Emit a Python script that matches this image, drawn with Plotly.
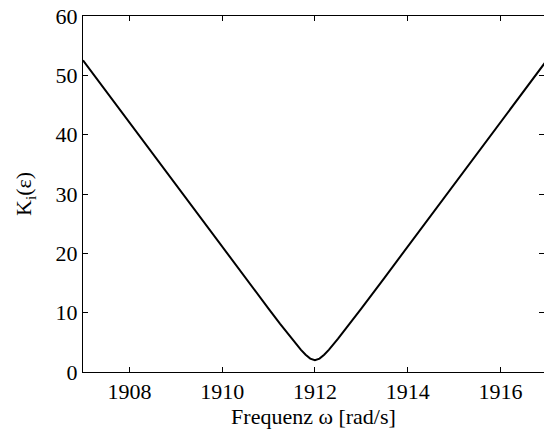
import plotly.graph_objects as go

# Frequency (rad/s) and K_i(epsilon)
freq = [1907.0, 1907.5, 1908.0, 1908.5, 1909.0, 1909.5, 1910.0, 1910.5, 1911.0,
        1911.25, 1911.5, 1911.7, 1911.8, 1911.9, 1912.0, 1912.1, 1912.2, 1912.3,
        1912.5, 1912.75, 1913.0, 1913.5, 1914.0, 1914.5, 1915.0, 1915.5, 1916.0,
        1916.5, 1917.0]
k_i = [52.54, 47.29, 42.05, 36.80, 31.56, 26.33, 21.09, 15.88, 10.69,
       8.13, 5.62, 3.73, 2.90, 2.26, 2.0, 2.26, 2.90, 3.73,
       5.62, 8.13, 10.69, 15.88, 21.09, 26.33, 31.56, 36.80, 42.05,
       47.29, 52.54]

xticks = [1908, 1910, 1912, 1914, 1916]
yticks = [0, 10, 20, 30, 40, 50, 60]

font = "Liberation Serif, Times New Roman, serif"

fig = go.Figure(go.Scatter(x=freq, y=k_i, mode="lines",
                           line=dict(color="black", width=2),
                           showlegend=False))

axis_common = dict(showline=True, linecolor="black", linewidth=1, mirror="ticks",
                   ticks="inside", ticklen=5, tickwidth=1, tickcolor="black",
                   showgrid=False, zeroline=False, automargin=False,
                   tickfont=dict(family=font, size=22, color="black"))

fig.update_xaxes(range=[1907, 1916.94], tickvals=xticks,
                 title=dict(text="Frequenz ω [rad/s]", font=dict(family=font, size=22, color="black"),
                            standoff=2),
                 **axis_common)
fig.update_yaxes(range=[0, 60], tickvals=yticks, **axis_common)

fig.add_annotation(text="K<sub>i</sub>(ε)", xref="paper", yref="paper",
                   x=-58 / 461, y=0.5, xanchor="center", yanchor="middle",
                   textangle=-90, showarrow=False,
                   font=dict(family=font, size=22, color="black"))

fig.update_layout(width=544, height=432,
                  margin=dict(l=83, r=0, t=16, b=60),
                  plot_bgcolor="white", paper_bgcolor="white")

fig.write_html("out.html", config={"displayModeBar": False},
               post_script="document.body.style.margin='0';")
